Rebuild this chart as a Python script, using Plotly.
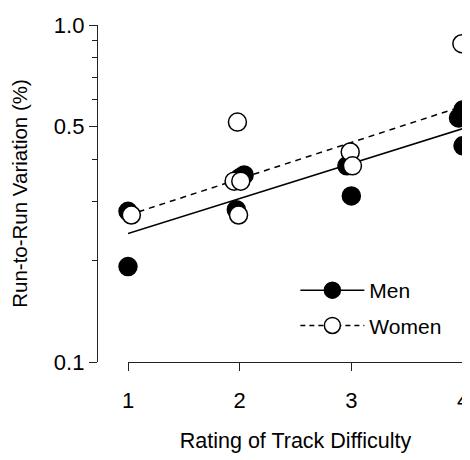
import numpy as np
import plotly.graph_objects as go

# ---- data ----
men_x = [1.0, 1.0, 1.97, 2.0, 2.04, 2.96, 3.0, 4.0, 3.96, 4.0]
men_y = [0.28, 0.192, 0.283, 0.352, 0.359, 0.382, 0.311, 0.56, 0.53, 0.438]

women_x = [0.95, 1.03, 1.98, 1.95, 2.01, 1.99, 2.99, 3.01, 3.99, 4.03, 4.02]
women_y = [0.273, 0.273, 0.515, 0.344, 0.344, 0.273, 0.42, 0.382, 0.88, 0.519, 0.465]

x_ticks = [1, 2, 3, 4]
y_ticks = [0.1, 0.5, 1.0]
y_ticktext = ["0.1", "0.5", "1.0"]
y_minor = [0.2, 0.3, 0.4, 0.6, 0.7, 0.8, 0.9]

FONT = "Liberation Sans, Arial, sans-serif"


def fit_line(xs, ys):
    r = np.round(xs)
    k, b = np.polyfit(r, np.log10(ys), 1)
    xl = np.array([r.min(), r.max()])
    return xl, 10 ** (k * xl + b)


mlx, mly = fit_line(np.array(men_x), np.array(men_y))
wlx, wly = fit_line(np.array(women_x), np.array(women_y))

fig = go.Figure()

fig.add_trace(go.Scatter(x=mlx, y=mly, mode="lines", showlegend=False,
                         line=dict(color="black", width=1.5), cliponaxis=False))
fig.add_trace(go.Scatter(x=wlx, y=wly, mode="lines", showlegend=False,
                         line=dict(color="black", width=1.5, dash="6px,5px"), cliponaxis=False))

fig.add_trace(go.Scatter(x=men_x, y=men_y, mode="markers", showlegend=False, cliponaxis=False,
                         marker=dict(size=18, color="black", line=dict(color="black", width=1.5))))
fig.add_trace(go.Scatter(x=women_x, y=women_y, mode="markers", showlegend=False, cliponaxis=False,
                         marker=dict(size=18, color="white", line=dict(color="black", width=1.5))))

# legend entries
fig.add_trace(go.Scatter(x=[None], y=[None], mode="lines+markers", name="Men", legendgroup="m",
                         line=dict(color="black", width=1.5),
                         marker=dict(size=18, color="black", line=dict(color="black", width=1.5))))
fig.add_trace(go.Scatter(x=[None], y=[None], mode="lines+markers", name="Women", legendgroup="w",
                         line=dict(color="black", width=1.5, dash="5px,4px"),
                         marker=dict(size=18, color="white", line=dict(color="black", width=1.5))))

fig.update_layout(
    width=462, height=452,
    margin=dict(l=89, r=7, t=17, b=98, autoexpand=False),
    paper_bgcolor="white", plot_bgcolor="white",
    font=dict(family=FONT, size=21, color="black"),
    showlegend=True,
    legend=dict(x=0.542, y=0.273, xanchor="left", yanchor="top",
                bgcolor="rgba(0,0,0,0)", itemwidth=64, tracegroupgap=5,
                font=dict(family=FONT, size=21, color="black")),
    xaxis=dict(
        domain=[31 / 366, 1], range=[1, 4], automargin=False,
        tickvals=x_ticks, ticktext=[str(v) for v in x_ticks],
        tickfont=dict(family=FONT, size=22),
        showline=True, linecolor="#222", linewidth=1.3,
        ticks="outside", ticklen=8, tickwidth=1.3, tickcolor="#222",
        showgrid=False, zeroline=False, ticklabelstandoff=10,
        title=dict(text="Rating of Track Difficulty", standoff=21,
                   font=dict(family=FONT, size=21.5)),
    ),
    yaxis=dict(
        type="log", range=[-1, 0], anchor="free", position=0, automargin=False,
        tickvals=y_ticks, ticktext=y_ticktext,
        tickfont=dict(family=FONT, size=22),
        showline=True, linecolor="#222", linewidth=1.3,
        ticks="outside", ticklen=8, tickwidth=1.3, tickcolor="#222",
        minor=dict(tickvals=y_minor, ticks="outside", ticklen=5, tickwidth=1.3, tickcolor="#222", showgrid=False),
        showgrid=False, zeroline=False,
        title=dict(text="Run-to-Run Variation (%)", standoff=19,
                   font=dict(family=FONT, size=20.5)),
    ),
)

fig.write_html("out.html")
